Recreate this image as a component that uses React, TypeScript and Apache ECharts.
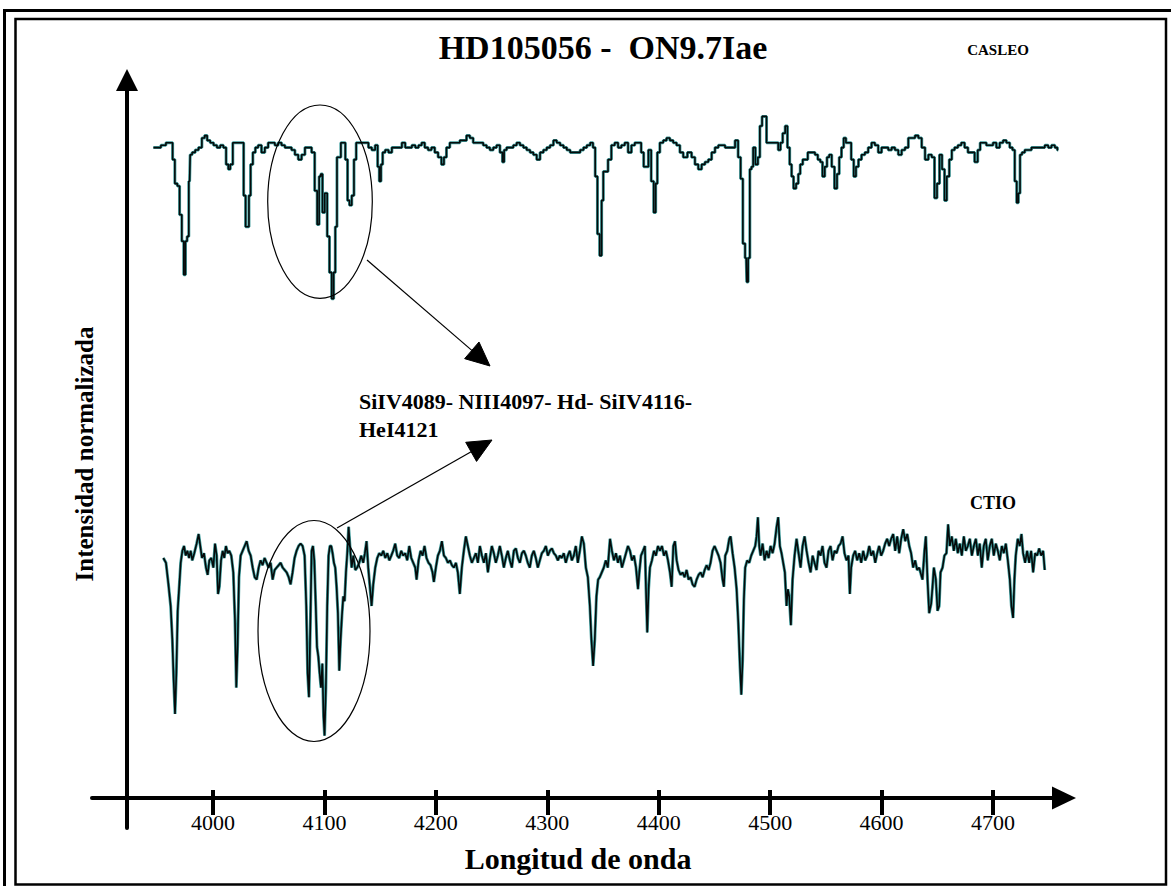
import React, { useEffect, useRef } from 'react';
import * as echarts from 'echarts';

// ---------- data ----------
const X_TICKS = [4000, 4100, 4200, 4300, 4400, 4500, 4600, 4700];

const TITLE = 'HD105056 -  ON9.7Iae';
const X_NAME = 'Longitud de onda';
const Y_NAME = 'Intensidad normalizada';
const CASLEO_LABEL = 'CASLEO';
const CTIO_LABEL = 'CTIO';
const LINE_LABEL_1 = 'SiIV4089- NIII4097- Hd- SiIV4116-';
const LINE_LABEL_2 = 'HeI4121';

// CASLEO spectrum: [wavelength (Å), normalized intensity]; plotted shifted up by CASLEO_OFFSET
const CASLEO_OFFSET = 1.72;
const CASLEO = [
  [3946.5,.99],[3951,.99],[3955.5,1.00],[3960,1.01],[3963,1.01],[3964.5,.94],[3967,.84],[3969,.83],[3971,.71],[3973,.60],
  [3974.5,.46],[3976,.60],[3977.5,.62],[3979,.85],[3980,.96],[3982.5,.97],[3985.5,.98],[3988.5,.99],[3991.5,1.03],[3993.5,1.04],
  [3996,1.02],[3999,1.01],[4002,1.00],[4005,.99],[4008,1.00],[4010.5,.99],[4013,.92],[4014.5,.90],[4016.5,.92],[4019,1.01],
  [4021,1.01],[4024,1.01],[4026.5,1.01],[4028.5,.79],[4030,.66],[4031.5,.66],[4033,.79],[4034.5,.92],[4037,.97],[4039,.99],
  [4042,1.00],[4045,.97],[4048,.99],[4051,1.01],[4054,1.01],[4057,1.00],[4060,1.01],[4063,1.00],[4066,.99],[4069,.99],
  [4072,.98],[4075,.96],[4078,.94],[4081,.96],[4084,.99],[4087,.99],[4090,.97],[4092.5,.81],[4094.5,.67],[4096,.87],
  [4097.5,.88],[4099,.72],[4101.5,.80],[4103.5,.62],[4105.5,.47],[4107.5,.36],[4109,.47],[4110.5,.66],[4112,.95],[4114,.95],
  [4115.5,1.01],[4117.5,1.01],[4120,.94],[4121.5,.77],[4123.5,.75],[4125.5,.79],[4127.5,.94],[4129.5,1.01],[4132,1.01],[4135,1.01],
  [4138,1.01],[4141,.99],[4144,.98],[4147,1.00],[4148.5,.91],[4150,.85],[4151.5,.92],[4153,.97],[4156,.98],[4159,.97],
  [4162,.99],[4165,.99],[4168,.99],[4171,1.01],[4174,.99],[4177,.99],[4180,1.00],[4183,.99],[4186,1.00],[4188.5,1.01],
  [4191.5,.99],[4194.5,.98],[4197.5,.99],[4200.5,.97],[4203.5,.95],[4206.5,.92],[4208,.95],[4211,.99],[4214,1.01],[4217,1.01],
  [4220,1.01],[4223,1.02],[4226,1.02],[4229,1.04],[4232,1.03],[4235,1.01],[4238,1.01],[4241,1.01],[4244,1.00],[4247,.99],
  [4250,.98],[4253,.99],[4256,1.00],[4259,.97],[4260.5,.93],[4262,.98],[4265,.99],[4268,.99],[4271,1.00],[4274,1.01],
  [4277,1.00],[4280,.99],[4283,.98],[4286,.97],[4289,.96],[4292,.94],[4295,.97],[4298,.98],[4301,.99],[4304,1.00],
  [4307,1.02],[4310,1.01],[4313,1.00],[4316,.99],[4319,.98],[4322,.97],[4325,.97],[4328,.97],[4331,.98],[4334,.99],
  [4337,1.00],[4340,1.01],[4342,.99],[4344,.87],[4346,.63],[4348,.54],[4349.5,.77],[4351,.89],[4353,.89],[4356,.94],
  [4359,1.00],[4362,1.01],[4365,.99],[4368,1.00],[4371,1.01],[4374,.97],[4377,1.00],[4380,1.01],[4383,1.01],[4385.5,.97],
  [4387.5,.91],[4389.5,.91],[4392,.98],[4394.5,.85],[4396.5,.72],[4398,.84],[4399.5,.97],[4402.5,1.01],[4405.5,1.02],[4408.5,1.03],
  [4411.5,1.02],[4414.5,1.01],[4417.5,1.00],[4420.5,.97],[4423.5,.95],[4428,.97],[4431,.95],[4434,.92],[4437,.90],[4440,.92],
  [4443,.93],[4446,.94],[4449,.97],[4452,.99],[4455,1.00],[4458,1.00],[4461,.99],[4464,.99],[4467,.99],[4470,1.02],
  [4472.5,.95],[4474.5,.86],[4476.5,.59],[4478.5,.53],[4479.5,.43],[4481,.53],[4482.5,.90],[4484,.91],[4485.5,.99],[4488,.92],
  [4490,.95],[4491.5,1.08],[4494,1.12],[4496,1.12],[4497.5,1.01],[4500,1.01],[4503,1.01],[4506,1.01],[4508.5,.98],[4510,1.01],
  [4512.5,1.05],[4514.5,1.08],[4516.5,.99],[4518.5,.92],[4520,.87],[4522,.82],[4524.5,.84],[4526,.88],[4528,.92],[4530.5,.94],
  [4532.5,.94],[4535,.97],[4537,.97],[4539,.97],[4541.5,.96],[4544,.94],[4546,.93],[4548,.87],[4550,.91],[4552,.95],
  [4554,.96],[4556.5,.91],[4559,.82],[4561,.88],[4563,.95],[4565,.99],[4567,1.03],[4569,1.01],[4571.5,1.01],[4574,.94],
  [4576,.87],[4578,.91],[4580.5,.94],[4583.5,.96],[4586.5,.97],[4589.5,.99],[4592.5,1.01],[4595.5,1.00],[4598.5,.97],[4601.5,.99],
  [4604.5,.99],[4607.5,.98],[4610.5,.99],[4613.5,.98],[4616.5,.96],[4619.5,.98],[4622.5,.99],[4625.5,1.03],[4628.5,1.03],[4631.5,1.04],
  [4634.5,1.03],[4637.5,.99],[4640.5,.94],[4643.5,.96],[4646.5,.95],[4648.5,.78],[4651,.84],[4653,.96],[4655.5,.90],[4657.5,.77],
  [4659.5,.87],[4662,.94],[4664,.98],[4667,.99],[4670,1.00],[4673,1.01],[4676,.99],[4679,.97],[4682,.97],[4685,.93],
  [4687.5,.98],[4689.5,1.01],[4692.5,1.01],[4695.5,1.00],[4698.5,1.00],[4701.5,1.01],[4704.5,.99],[4707.5,1.01],[4710.5,1.02],[4713.5,1.01],
  [4716.5,.99],[4718.5,.98],[4720.5,.85],[4722,.76],[4723.5,.80],[4725,.96],[4727,.97],[4730,.98],[4733,.98],[4736,.99],
  [4739,.99],[4742,.99],[4745,.99],[4748,1.00],[4751,.99],[4754,1.00],[4757,.99],[4758.5,.98]
];

// CTIO spectrum: [wavelength (Å), normalized intensity]
const CTIO = [
  [3955.4,1.00],[3957.8,.98],[3960,.89],[3962,.80],[3963.5,.66],[3964.7,.49],[3965.9,.35],[3967.1,.52],[3968.3,.78],[3969.8,.89],
  [3971,.98],[3972.5,1.03],[3974,1.05],[3975.5,1.01],[3977,1.03],[3978.5,1.00],[3980,1.03],[3981.4,.99],[3983.2,1.02],[3985.3,1.06],
  [3987.1,1.10],[3988.3,1.06],[3990.1,1.00],[3991.9,1.02],[3993.7,.96],[3995.2,.93],[3996.7,.99],[3998.5,1.00],[4000.3,.96],[4001.8,1.06],
  [4003.3,1.01],[4004.5,.85],[4005.7,.88],[4007.2,.99],[4008.7,1.03],[4010.1,1.00],[4011.6,1.05],[4013.1,1.02],[4014.6,1.03],[4016.4,1.01],
  [4018.2,.94],[4019.7,.74],[4020.9,.46],[4022.1,.64],[4023.3,.92],[4024.8,1.01],[4026.6,1.03],[4028.4,1.05],[4030.2,1.07],[4032,1.03],
  [4033.8,1.01],[4035.6,.96],[4037.4,.92],[4039.2,.91],[4041,.96],[4042.7,.99],[4044.5,.97],[4046.3,1.00],[4048.1,.98],[4049.9,.96],
  [4051.7,.98],[4053.5,.91],[4055.3,.95],[4057.1,.96],[4058.9,.97],[4060.7,.98],[4062.5,.96],[4064.3,.95],[4066.1,.94],[4067.9,.92],
  [4069.6,.89],[4071.4,.94],[4073.2,1.00],[4075,1.03],[4076.8,1.05],[4078.6,1.06],[4080.4,1.05],[4082.2,1.01],[4083.7,.80],[4084.9,.52],
  [4086.1,.42],[4087.3,.71],[4088.5,1.03],[4089.7,1.05],[4090.9,.99],[4092.1,.82],[4093.3,.63],[4094.5,.59],[4095.7,.52],[4096.9,.46],
  [4098.1,.56],[4099.2,.34],[4100.1,.26],[4101.3,.46],[4102.5,.80],[4103.7,1.01],[4104.9,1.05],[4106.1,1.05],[4107.3,1.02],[4108.5,.98],
  [4109.7,.96],[4110.9,.88],[4112.1,.77],[4113.3,.53],[4114.5,.66],[4115.7,.76],[4116.9,.84],[4118.1,.82],[4119.3,.94],[4120.5,1.02],
  [4121.7,1.13],[4122.9,1.05],[4124.4,.96],[4125.9,1.01],[4127.7,.95],[4129.4,.96],[4131.2,.98],[4133,1.01],[4134.8,.98],[4136.3,1.02],
  [4137.8,1.07],[4139.3,.96],[4140.8,.88],[4142.3,.80],[4143.8,.89],[4145.6,.96],[4147.4,1.00],[4149.2,1.02],[4151,1.01],[4152.8,1.03],
  [4154.6,1.00],[4156.4,1.02],[4158.2,.99],[4160,1.01],[4161.7,1.03],[4163.5,1.06],[4165.3,1.01],[4167.1,1.00],[4168.9,1.03],[4170.7,1.01],
  [4172.5,1.02],[4174.3,.99],[4176.1,1.05],[4177.9,1.00],[4179.7,.98],[4181.5,.96],[4182.7,.91],[4184.5,.99],[4186.3,1.03],[4188.1,1.01],
  [4189.8,1.05],[4191.6,1.00],[4193.4,.98],[4195.2,.97],[4197,.94],[4198.2,.90],[4200,.96],[4201.8,1.01],[4203.6,1.03],[4205.4,1.07],
  [4207.2,1.01],[4209,1.00],[4210.8,.98],[4212.6,.99],[4214.4,.97],[4216.2,.96],[4218,.98],[4219.7,.94],[4221.5,.85],[4223.3,.96],
  [4225.1,1.03],[4226.9,1.09],[4228.7,1.05],[4230.5,1.01],[4232.3,.98],[4234.1,1.00],[4235.9,1.02],[4237.7,.98],[4239.5,1.05],[4241.3,1.01],
  [4243.1,.98],[4244.9,1.02],[4246.7,.94],[4248.5,1.00],[4250.2,1.05],[4252,1.02],[4253.8,.98],[4255.6,1.01],[4257.4,1.05],[4259.2,1.01],
  [4261,.96],[4262.8,1.00],[4264.6,1.03],[4266.4,.99],[4268.2,.96],[4270,1.03],[4271.8,1.04],[4273.6,1.00],[4275.4,.98],[4277.2,1.02],
  [4279,1.03],[4280.7,1.01],[4282.5,.98],[4284.3,.96],[4286.1,1.01],[4287.9,1.03],[4289.7,1.00],[4291.5,.96],[4293.3,.99],[4295.1,1.02],
  [4296.9,1.03],[4298.7,1.05],[4300.5,1.01],[4302.3,1.03],[4304.1,1.04],[4305.9,1.02],[4307.7,1.01],[4309.5,.99],[4311.2,1.01],[4313,1.00],
  [4314.8,1.02],[4316.6,.98],[4318.4,1.01],[4320.2,1.03],[4322,.99],[4323.8,1.01],[4325.6,1.05],[4327.4,.98],[4329.2,1.03],[4331,1.09],
  [4332.8,1.06],[4334.6,.96],[4336.4,.92],[4338.2,.80],[4339.6,.66],[4341.1,.55],[4342.6,.66],[4344.1,.84],[4345.6,.91],[4347.1,.92],
  [4348.9,.94],[4350.7,.96],[4352.5,.99],[4354.3,.96],[4356.3,1.08],[4358,1.03],[4359.8,.99],[4361.6,1.02],[4363.4,.98],[4365.2,1.01],
  [4367,.96],[4368.8,.99],[4370.6,1.02],[4372.4,1.05],[4374.2,1.03],[4376,.99],[4377.8,1.01],[4379.6,.96],[4381.4,.87],[4382.6,.94],
  [4384.1,1.01],[4385.9,1.03],[4387.6,1.05],[4388.5,.88],[4389.7,.69],[4390.9,.87],[4392.1,.96],[4393.9,.99],[4395.7,1.03],[4397.5,1.01],
  [4399.3,1.05],[4401.1,1.03],[4402.9,1.05],[4404.7,1.01],[4406.5,1.03],[4408.3,.99],[4410.1,.94],[4411.6,.88],[4413.1,1.05],[4414.6,1.07],
  [4416.1,.99],[4417.8,.95],[4419.6,.93],[4421.4,.94],[4423.2,.92],[4425,.95],[4426.8,.91],[4428.6,.92],[4430.4,.89],[4432.2,.88],
  [4434,.91],[4435.8,.93],[4437.6,.94],[4439.4,.92],[4441.2,.95],[4443,.97],[4444.8,.95],[4446.5,.98],[4448.3,1.03],[4450.1,1.05],
  [4451.9,1.03],[4453.7,1.01],[4455.5,.98],[4457.3,.91],[4458.5,.88],[4459.7,1.01],[4461.5,1.03],[4463.3,1.08],[4464.5,1.09],[4466.3,1.02],
  [4468.1,.96],[4469.9,.87],[4471.4,.73],[4472.9,.55],[4474.1,.43],[4475.3,.575],[4476.4,.825],[4477.6,.96],[4479.4,.99],[4481.2,.98],
  [4483,1.01],[4484.8,1.03],[4486.6,1.05],[4487.8,1.09],[4489,1.17],[4490.2,1.05],[4491.4,1.01],[4493.2,1.06],[4495,.99],[4496.8,1.03],
  [4498.6,1.00],[4500.4,1.05],[4502.2,1.02],[4504,1.06],[4505.8,1.13],[4507.2,1.17],[4508.7,1.05],[4510.2,1.02],[4511.7,.98],[4513.2,.94],
  [4514.7,.80],[4515.9,.87],[4517.1,.84],[4518.6,.72],[4520.1,.91],[4521.9,1.01],[4523.7,1.08],[4525.5,1.02],[4527.3,.96],[4529.1,1.05],
  [4530.9,1.09],[4532.7,1.03],[4534.5,.98],[4536.3,.94],[4538.1,1.01],[4539.8,.98],[4541.6,.95],[4543.4,1.03],[4545.2,1.01],[4547,1.05],
  [4548.8,.98],[4550.6,.96],[4552.4,1.03],[4554.2,1.05],[4556,.99],[4557.8,1.03],[4559.6,1.02],[4561.4,1.05],[4563.2,1.06],[4565,1.09],
  [4566.7,1.02],[4568.5,.99],[4570.3,1.01],[4571.5,.85],[4572.7,.96],[4574.5,1.01],[4576.3,1.03],[4578.1,.99],[4579.9,1.02],[4581.7,.98],
  [4583.5,1.03],[4585.3,.99],[4587.1,1.01],[4588.9,1.05],[4590.7,1.01],[4592.5,1.03],[4594.3,.98],[4596.1,1.02],[4597.8,1.05],[4599.6,1.01],
  [4601.4,1.03],[4603.2,1.06],[4605,1.08],[4606.8,1.05],[4608.6,1.08],[4610.4,1.10],[4612.2,1.03],[4614,1.09],[4615.8,1.02],[4617.6,1.08],
  [4619.4,1.12],[4621.2,1.07],[4623,1.10],[4624.8,1.05],[4626.5,1.02],[4628.3,.96],[4630.1,.99],[4631.9,.95],[4633.7,.96],[4634.9,.94],
  [4636.7,.91],[4638.5,1.03],[4639.7,1.09],[4641.2,.91],[4642.7,.77],[4644.5,.81],[4645.7,.88],[4646.9,.96],[4648.7,.91],[4650.2,.78],
  [4651.7,.80],[4652.9,.94],[4654.7,.96],[4656.4,1.01],[4658.2,1.02],[4659.7,1.14],[4661.2,1.05],[4663,1.09],[4664.8,1.03],[4666.6,1.08],
  [4668.4,1.02],[4670.2,1.06],[4672,1.01],[4673.8,1.09],[4675.6,1.03],[4677.4,1.05],[4679.2,1.08],[4681,1.01],[4682.8,1.05],[4684.6,1.08],
  [4686.4,1.01],[4688.1,1.06],[4689.9,.96],[4691.7,1.05],[4693.5,1.08],[4695.3,.99],[4697.1,1.05],[4698.9,1.08],[4700.7,1.01],[4702.5,1.06],
  [4704.3,1.03],[4706.1,.99],[4707.9,1.05],[4709.7,1.02],[4711.5,1.06],[4713.3,.99],[4715.1,.91],[4716.5,.80],[4718,.75],[4719.2,.91],
  [4720.4,1.01],[4722.2,1.08],[4724,1.05],[4725.5,1.10],[4727,1.02],[4728.8,.98],[4730.6,1.03],[4732.4,.98],[4734.2,1.03],[4736,.94],
  [4737.8,1.02],[4739.6,1.01],[4741.4,1.04],[4743.2,1.01],[4745,1.03],[4746.4,.95]
];

// ---------- layout constants ----------
const X_MIN = 3891.4;
const X_MAX = 4763.7;
const Y_MAX = 718 / 240;
const TICK_UP = 8 / 240;
const FONT = 'Liberation Serif';

function textEl(text: string, x: number, y: number, size: number, align: string, bold = true) {
  return {
    type: 'text',
    x,
    y,
    z: 100,
    silent: true,
    style: {
      text,
      fill: '#000',
      font: `${bold ? 'bold ' : ''}${size}px "Liberation Serif", serif`,
      align,
      textAlign: align,
      verticalAlign: 'middle',
      textVerticalAlign: 'middle'
    }
  };
}

function arrow(x1: number, y1: number, tx: number, ty: number) {
  const dx = tx - x1;
  const dy = ty - y1;
  const len = Math.sqrt(dx * dx + dy * dy);
  const ux = dx / len;
  const uy = dy / len;
  const headLen = 24;
  const headHalf = 11;
  const bx = tx - headLen * ux;
  const by = ty - headLen * uy;
  return [
    {
      type: 'line',
      z: 100,
      silent: true,
      shape: { x1, y1, x2: bx, y2: by },
      style: { stroke: '#000', lineWidth: 1.2 }
    },
    {
      type: 'polygon',
      z: 100,
      silent: true,
      shape: {
        points: [
          [tx, ty],
          [bx - headHalf * uy, by + headHalf * ux],
          [bx + headHalf * uy, by - headHalf * ux]
        ]
      },
      style: { fill: '#000', stroke: '#000', lineWidth: 1 }
    }
  ];
}

export default function App() {
  const ref = useRef<HTMLDivElement>(null);

  useEffect(() => {
    document.body.style.margin = '0';
    if (!ref.current) return;
    const chart = echarts.init(ref.current, undefined, { renderer: 'svg' });

    const casleoData = CASLEO.map(([w, f]) => [w, f + CASLEO_OFFSET]);
    const ctioData = CTIO.map(([w, f]) => [w, f]);

    const option = {
      animation: false,
      backgroundColor: '#ffffff',
      grid: [
        { left: 92, right: 107, top: 80, bottom: 88 },
        { left: 92, right: 107, top: 80, bottom: 58 }
      ],
      xAxis: [
        {
          type: 'value',
          gridIndex: 0,
          min: X_MIN,
          max: X_MAX,
          position: 'bottom',
          axisLine: {
            show: true,
            onZero: false,
            symbol: ['none', 'triangle'],
            symbolSize: [23, 24],
            lineStyle: { color: '#000', width: 4 }
          },
          axisTick: {
            show: true,
            customValues: X_TICKS,
            length: 17,
            lineStyle: { color: '#000', width: 4 }
          },
          axisLabel: {
            show: true,
            customValues: X_TICKS,
            formatter: (v: number) => String(v),
            margin: 13,
            color: '#000',
            fontFamily: FONT,
            fontSize: 22
          },
          splitLine: { show: false },
          name: X_NAME,
          nameLocation: 'middle',
          nameGap: 45,
          nameTextStyle: { color: '#000', fontFamily: FONT, fontWeight: 'bold', fontSize: 30 }
        },
        { type: 'value', gridIndex: 1, min: X_MIN, max: X_MAX, show: false }
      ],
      yAxis: [
        { type: 'value', gridIndex: 0, min: 0, max: Y_MAX, show: false },
        {
          type: 'value',
          gridIndex: 1,
          min: 0,
          max: 1,
          position: 'left',
          offset: -35,
          axisLine: {
            show: true,
            onZero: false,
            symbol: ['none', 'triangle'],
            symbolSize: [22, 22],
            lineStyle: { color: '#000', width: 4 }
          },
          axisTick: { show: false },
          axisLabel: { show: false },
          splitLine: { show: false },
          name: Y_NAME,
          nameLocation: 'middle',
          nameGap: 30,
          nameTextStyle: { color: '#000', fontFamily: FONT, fontWeight: 'bold', fontSize: 25 }
        }
      ],
      series: [
        {
          name: 'CASLEO glow',
          type: 'line',
          xAxisIndex: 0,
          yAxisIndex: 0,
          data: casleoData,
          step: 'middle',
          showSymbol: false,
          silent: true,
          lineStyle: { color: '#3f9c9c', width: 3 }
        },
        {
          name: 'CASLEO',
          type: 'line',
          xAxisIndex: 0,
          yAxisIndex: 0,
          data: casleoData,
          step: 'middle',
          showSymbol: false,
          silent: true,
          lineStyle: { color: '#050a0a', width: 1.6 }
        },
        {
          name: 'CTIO glow',
          type: 'line',
          xAxisIndex: 0,
          yAxisIndex: 0,
          data: ctioData,
          showSymbol: false,
          silent: true,
          lineStyle: { color: '#3f9c9c', width: 3 }
        },
        {
          name: 'CTIO',
          type: 'line',
          xAxisIndex: 0,
          yAxisIndex: 0,
          data: ctioData,
          showSymbol: false,
          silent: true,
          lineStyle: { color: '#050a0a', width: 1.6 },
          markLine: {
            silent: true,
            symbol: ['none', 'none'],
            label: { show: false },
            lineStyle: { color: '#000', width: 4, type: 'solid' },
            data: X_TICKS.map((t) => [{ coord: [t, 0] }, { coord: [t, TICK_UP] }])
          }
        }
      ],
      graphic: [
        {
          type: 'polyline',
          silent: true,
          z: 100,
          shape: { points: [[4.5, 886], [4.5, 10.5], [1171, 10.5]] },
          style: { stroke: '#000', lineWidth: 3, fill: null }
        },
        {
          type: 'rect',
          silent: true,
          z: 100,
          shape: { x: 15.5, y: 19, width: 1150.5, height: 865.5 },
          style: { stroke: '#000', lineWidth: 2.5, fill: null }
        },
        textEl(TITLE, 603, 47, 34, 'center'),
        textEl(CASLEO_LABEL, 998, 50, 15, 'center'),
        textEl(CTIO_LABEL, 993, 503, 18, 'center'),
        textEl(LINE_LABEL_1, 359, 401, 22, 'left'),
        textEl(LINE_LABEL_2, 359, 429, 22, 'left'),
        {
          type: 'ellipse',
          silent: true,
          z: 100,
          shape: { cx: 320, cy: 201.7, rx: 52.3, ry: 96.7 },
          style: { stroke: '#000', lineWidth: 1.2, fill: null }
        },
        {
          type: 'ellipse',
          silent: true,
          z: 100,
          shape: { cx: 314, cy: 631, rx: 56, ry: 110.5 },
          style: { stroke: '#000', lineWidth: 1.2, fill: null }
        },
        ...arrow(367, 260, 490, 366),
        ...arrow(337, 528, 492, 440)
      ]
    };

    chart.setOption(option as any);
    return () => {
      chart.dispose();
    };
  }, []);

  return <div ref={ref} style={{ width: 1171, height: 886, background: '#fff' }} />;
}
